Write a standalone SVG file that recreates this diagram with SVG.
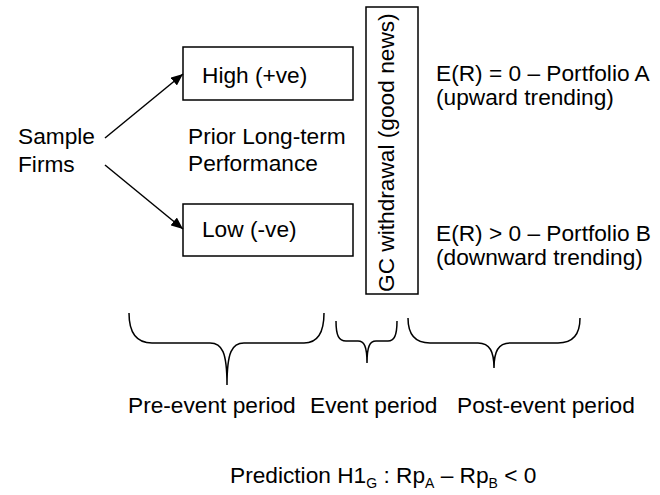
<svg xmlns="http://www.w3.org/2000/svg" width="660" height="495" viewBox="0 0 660 495">
  <defs>
    <marker id="arrow" viewBox="0 0 12 10" refX="12" refY="5" markerWidth="12" markerHeight="10" markerUnits="userSpaceOnUse" orient="auto">
      <path d="M0,0 L12,5 L0,10 z" fill="#000"/>
    </marker>
    <style>
      text { font-family: "Liberation Sans", Arial, sans-serif; font-size: 22.7px; fill: #000; }
      .box { fill: #fff; stroke: #000; stroke-width: 1.5; }
      .edge { fill: none; stroke: #000; stroke-width: 1.5; marker-end: url(#arrow); }
      .brace { fill: none; stroke: #000; stroke-width: 1.5; }
      .sub { font-size: 14px; }
    </style>
  </defs>
  <rect width="660" height="495" fill="#fff"/>

  <g id="sample-firms">
    <text x="18" y="144">Sample</text>
    <text x="18" y="172">Firms</text>
  </g>

  <g id="high">
    <rect class="box" x="183" y="47" width="170" height="53"/>
    <text x="202" y="83">High (+ve)</text>
  </g>

  <g id="low">
    <rect class="box" x="183" y="204" width="170" height="52"/>
    <text x="202" y="237">Low (-ve)</text>
  </g>

  <g id="prior-performance">
    <text x="188" y="144">Prior Long-term</text>
    <text x="188" y="171">Performance</text>
  </g>

  <g id="gc-withdrawal">
    <rect class="box" x="366" y="7" width="52" height="287"/>
    <text transform="translate(394,292) rotate(-90)">GC withdrawal (good news)</text>
  </g>

  <g id="portfolio-a">
    <text x="436" y="81">E(R) = 0 – Portfolio A</text>
    <text x="436" y="105">(upward trending)</text>
  </g>

  <g id="portfolio-b">
    <text x="436" y="241">E(R) &gt; 0 – Portfolio B</text>
    <text x="436" y="265">(downward trending)</text>
  </g>

  <g id="connectors">
    <line class="edge" x1="105" y1="138" x2="183" y2="74"/>
    <line class="edge" x1="105" y1="165" x2="183" y2="229"/>
  </g>

  <g id="periods">
    <path class="brace" d="M129,313 C129,333 136,343 152,343 L210,343 C222,343 227,352 227,385 C227,352 232,343 244,343 L304,343 C318,343 324,333 324,313"/>
    <path class="brace" d="M336,321 C336,336 339,341 346,341 L358,341 C364,341 367,346 367,363 C367,346 370,341 376,341 L388,341 C394,341 397,336 397,321"/>
    <path class="brace" d="M408,318 C408,334 415,343 430,343 L478,343 C490,343 494,352 494,368 C494,352 498,343 510,343 L558,343 C573,343 580,334 580,318"/>
    <text x="128" y="413">Pre-event period</text>
    <text x="310" y="413">Event period</text>
    <text x="457" y="413">Post-event period</text>
  </g>

  <g id="prediction">
    <text x="230" y="483">Prediction H1<tspan class="sub" dy="5">G</tspan><tspan dy="-5"> : Rp</tspan><tspan class="sub" dy="5">A</tspan><tspan dy="-5"> – Rp</tspan><tspan class="sub" dy="5">B</tspan><tspan dy="-5"> &lt; 0</tspan></text>
  </g>
</svg>
